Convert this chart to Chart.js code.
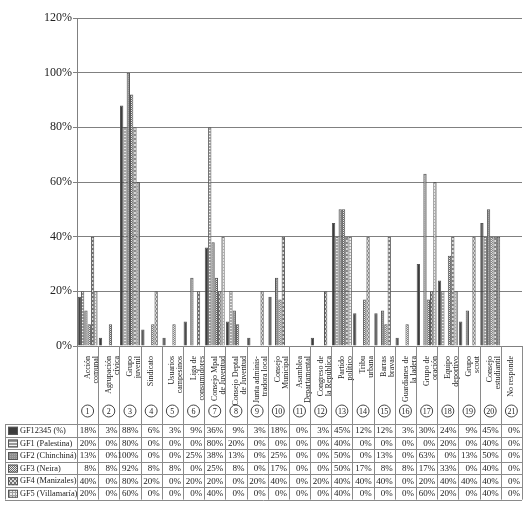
<!DOCTYPE html>
<html>
<head>
<meta charset="utf-8">
<script src="https://cdn.jsdelivr.net/npm/chart.js@4/dist/chart.umd.min.js"></script>
<style>
  html, body { margin: 0; padding: 0; background: #fff; }
  #wrap { width: 527px; height: 507px; position: relative; }
</style>
</head>
<body>
<div id="wrap"><canvas id="chart" width="527" height="507"></canvas></div>
<script>
// categories (rotated labels under the axis)
const categories = [
  ['Acción', 'comunal'], ['Agrupación', 'cívica'], ['Grupo', 'juvenil'], ['Sindicato'],
  ['Usuarios', 'campesinos'], ['Liga de', 'consumidores'], ['Consejo Mpal', 'de Juventud'],
  ['Consejo Deptal', 'de Juventud'], ['Junta adminis-', 'tradora local'], ['Consejo', 'Municipal'],
  ['Asamblea', 'Departamental'], ['Congreso de', 'la República'], ['Partido', 'político'],
  ['Tribu', 'urbana'], ['Barras', 'bravas'], ['Guardianes de', 'la ladera'], ['Grupo de', 'oración'],
  ['Equipo', 'deportivo'], ['Grupo', 'scout'], ['Consejo', 'estudiantil'], ['No responde']
];
const seriesNames = ['GF12345 (%)', 'GF1 (Palestina)', 'GF2 (Chinchiná)', 'GF3 (Neira)', 'GF4 (Manizales)', 'GF5 (Villamaría)'];

// values in %
const gf12345 = [18, 3, 88, 6, 3, 9, 36, 9, 3, 18, 0, 3, 45, 12, 12, 3, 30, 24, 9, 45, 0];
const gf1     = [20, 0, 80, 0, 0, 0, 80, 20, 0, 0, 0, 0, 40, 0, 0, 0, 0, 20, 0, 40, 0];
const gf2     = [13, 0, 100, 0, 0, 25, 38, 13, 0, 25, 0, 0, 50, 0, 13, 0, 63, 0, 13, 50, 0];
const gf3     = [8, 8, 92, 8, 8, 0, 25, 8, 0, 17, 0, 0, 50, 17, 8, 8, 17, 33, 0, 40, 0];
const gf4     = [40, 0, 80, 20, 0, 20, 20, 0, 20, 40, 0, 20, 40, 40, 40, 0, 20, 40, 40, 40, 0];
const gf5     = [20, 0, 60, 0, 0, 0, 40, 0, 0, 0, 0, 0, 40, 0, 0, 0, 60, 20, 0, 40, 0];
const allSeries = [gf12345, gf1, gf2, gf3, gf4, gf5];

const yTicks = [0, 20, 40, 60, 80, 100, 120];

const FONT = '"Liberation Serif", "DejaVu Serif", serif';

// fill patterns, one per series
function makePattern(size, paint) {
  const c = document.createElement('canvas');
  c.width = size; c.height = size;
  const g = c.getContext('2d');
  paint(g);
  return document.getElementById('chart').getContext('2d').createPattern(c, 'repeat');
}
const fills = [
  '#3c3c3c',
  makePattern(3, g => { g.fillStyle = '#9a9a9a'; g.fillRect(0, 0, 3, 3); g.fillStyle = '#f4f4f4'; g.fillRect(0, 1, 3, 1); }),
  makePattern(2, g => { g.fillStyle = '#8e8e8e'; g.fillRect(0, 0, 2, 2); g.fillStyle = '#a8a8a8'; g.fillRect(0, 0, 1, 1); }),
  makePattern(2, g => { g.fillStyle = '#e8e8e8'; g.fillRect(0, 0, 2, 2); g.fillStyle = '#6a6a6a'; g.fillRect(0, 0, 1, 1); g.fillRect(1, 1, 1, 1); }),
  makePattern(4, g => { g.fillStyle = '#dcdcdc'; g.fillRect(0, 0, 4, 4); g.fillStyle = '#707070'; g.fillRect(0, 0, 2, 2); g.fillRect(2, 2, 2, 2); }),
  makePattern(3, g => { g.fillStyle = '#f0f0f0'; g.fillRect(0, 0, 3, 3); g.fillStyle = '#a0a0a0'; g.fillRect(0, 0, 3, 1); g.fillRect(0, 0, 1, 3); })
];

// draws the category separators, circled numbers and the data table under the chart
const tablePlugin = {
  id: 'dataTable',
  afterDraw(chart) {
    const ctx = chart.ctx;
    const x = chart.scales.x;
    const area = chart.chartArea;
    const n = categories.length;
    const colW = (area.right - area.left) / n;
    const rowTop = 424, rowH = 12.6, tableLeft = 5;
    const rows = seriesNames.length;
    const bottom = rowTop + rows * rowH;

    ctx.save();
    ctx.strokeStyle = '#8a8a8a';
    ctx.lineWidth = 1;
    // vertical separators
    for (let i = 0; i <= n; i++) {
      const px = Math.round(area.left + i * colW) + 0.5;
      ctx.beginPath(); ctx.moveTo(px, area.bottom); ctx.lineTo(px, bottom); ctx.stroke();
    }
    ctx.beginPath(); ctx.moveTo(tableLeft + 0.5, rowTop); ctx.lineTo(tableLeft + 0.5, bottom); ctx.stroke();
    // horizontal rows
    for (let r = 0; r <= rows; r++) {
      const py = Math.round(rowTop + r * rowH) + 0.5;
      ctx.beginPath(); ctx.moveTo(tableLeft, py); ctx.lineTo(area.right, py); ctx.stroke();
    }

    // circled category numbers
    ctx.fillStyle = '#222';
    ctx.strokeStyle = '#444';
    ctx.textAlign = 'center';
    ctx.textBaseline = 'middle';
    ctx.font = '8px ' + FONT;
    for (let i = 0; i < n; i++) {
      const cx = x.getPixelForValue(i);
      ctx.beginPath(); ctx.arc(cx, 411, 6, 0, Math.PI * 2); ctx.stroke();
      ctx.fillText(String(i + 1), cx, 411.5);
    }

    // legend column and values
    for (let r = 0; r < rows; r++) {
      const cy = rowTop + r * rowH + rowH / 2 + 0.5;
      ctx.fillStyle = fills[r];
      ctx.fillRect(8, cy - 4, 10, 8);
      ctx.strokeStyle = '#555';
      ctx.strokeRect(8.5, cy - 3.5, 9, 7);
      ctx.fillStyle = '#222';
      ctx.textAlign = 'left';
      ctx.font = '8.3px ' + FONT;
      ctx.fillText(seriesNames[r], 20, cy);
      ctx.textAlign = 'right';
      ctx.font = '9px ' + FONT;
      allSeries[r].forEach((v, i) => {
        ctx.fillText(v + '%', area.left + (i + 1) * colW - 2, cy);
      });
    }
    ctx.restore();
  }
};

new Chart(document.getElementById('chart'), {
  type: 'bar',
  data: {
    labels: categories,
    datasets: allSeries.map((data, i) => ({
      label: seriesNames[i],
      data: data,
      backgroundColor: fills[i],
      borderColor: '#555',
      borderWidth: 1,
      categoryPercentage: 0.94,
      barPercentage: 1
    }))
  },
  options: {
    responsive: false,
    animation: false,
    devicePixelRatio: 1,
    layout: { padding: { top: 18, right: 5, left: 0, bottom: 0 } },
    plugins: { legend: { display: false }, tooltip: { enabled: false } },
    scales: {
      x: {
        grid: { display: false },
        border: { display: false },
        ticks: {
          autoSkip: false,
          minRotation: 90,
          maxRotation: 90,
          padding: 2,
          color: '#222',
          font: { family: FONT, size: 8, lineHeight: 1 }
        },
        afterFit(scale) { scale.height = 161; }
      },
      y: {
        min: 0,
        max: 120,
        afterBuildTicks(scale) { scale.ticks = yTicks.map(v => ({ value: v })); },
        grid: { color: '#808080', drawTicks: true, tickLength: 4 },
        border: { color: '#808080' },
        ticks: {
          color: '#222',
          padding: 1,
          font: { family: FONT, size: 12 },
          callback: v => v + '%'
        },
        afterFit(scale) { scale.width = 77; }
      }
    }
  },
  plugins: [tablePlugin]
});
</script>
</body>
</html>
